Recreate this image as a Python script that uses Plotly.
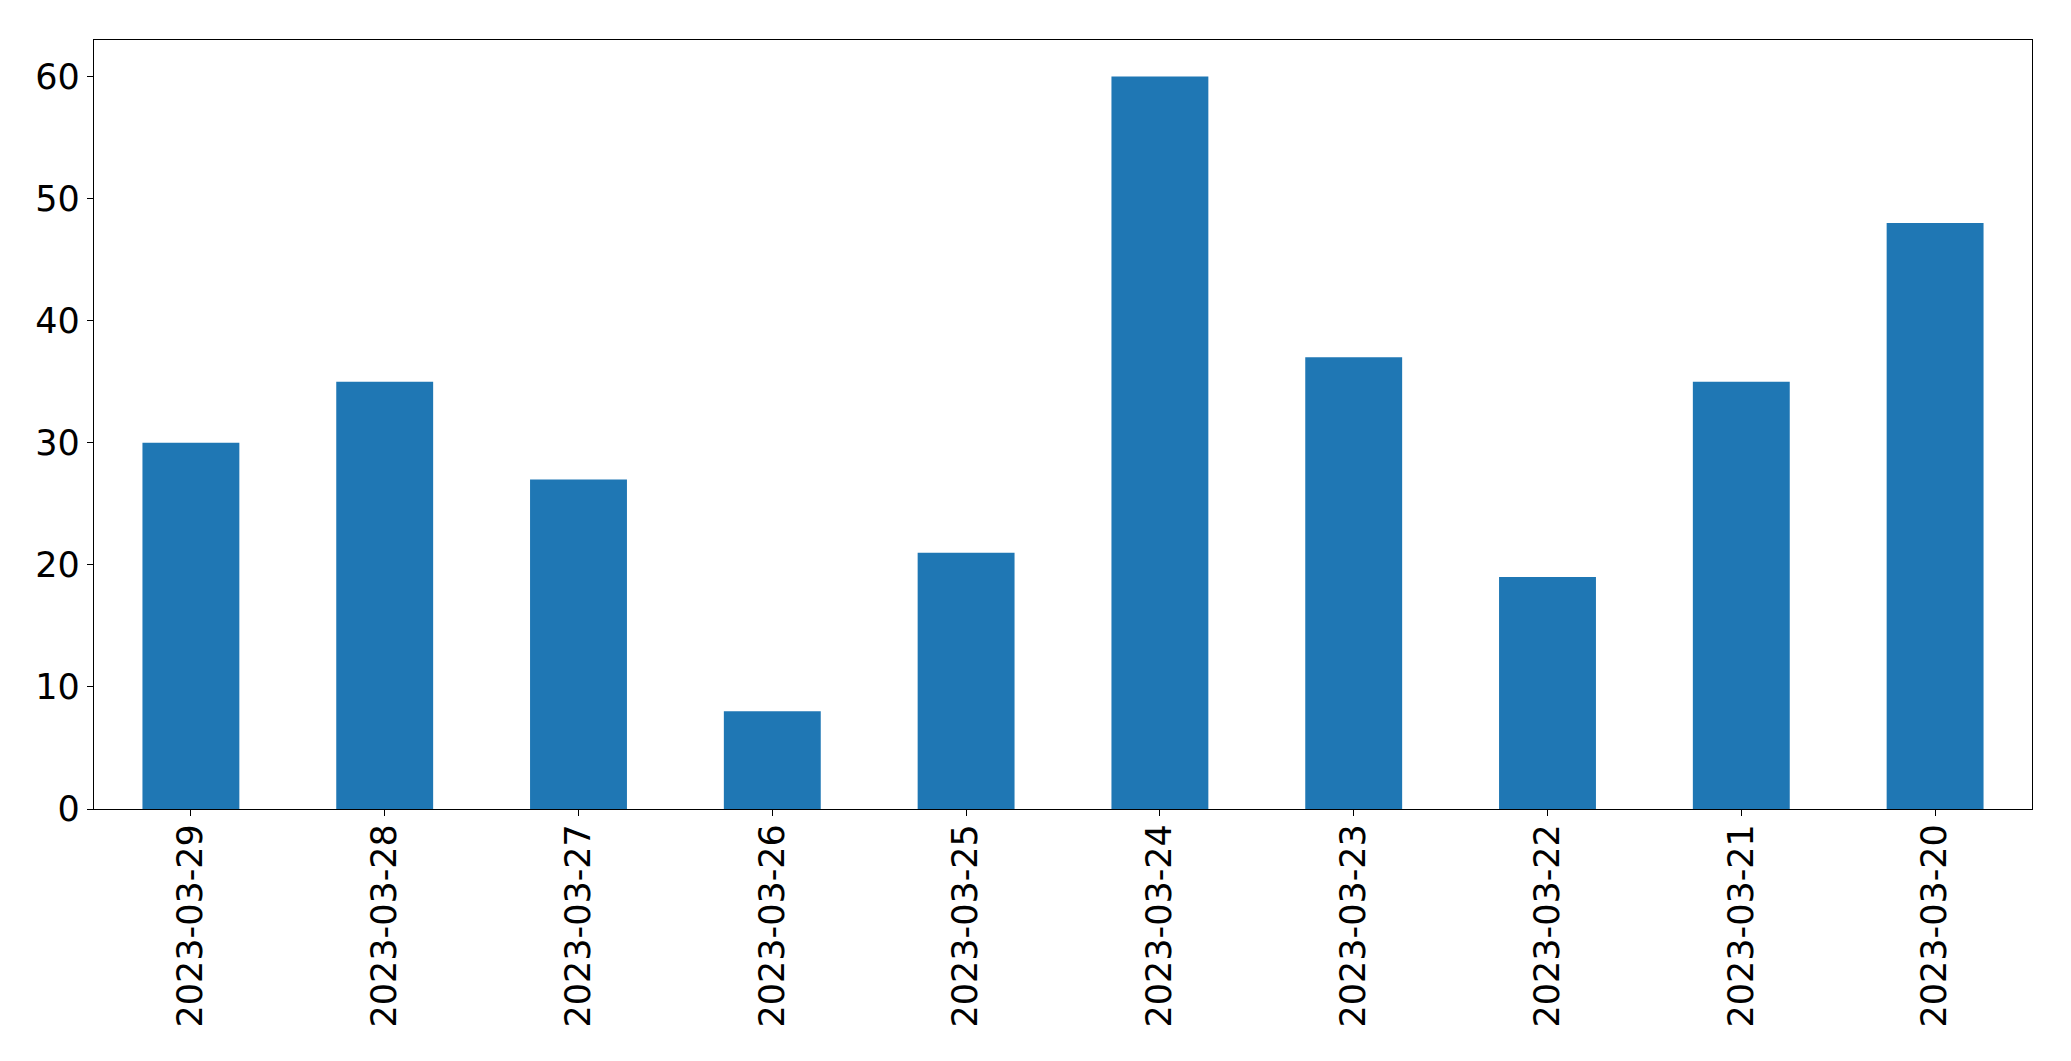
import plotly.graph_objects as go

dates = ["2023-03-29", "2023-03-28", "2023-03-27", "2023-03-26", "2023-03-25",
         "2023-03-24", "2023-03-23", "2023-03-22", "2023-03-21", "2023-03-20"]
values = [30, 35, 27, 8, 21, 60, 37, 19, 35, 48]
y_ticks = [0, 10, 20, 30, 40, 50, 60]

fig = go.Figure(go.Bar(x=dates, y=values, marker_color="#1f77b4", marker_line_width=0, width=0.5))

fig.update_layout(
    width=2063, height=1053,
    margin=dict(l=86, r=39, t=32, b=252, pad=0),
    plot_bgcolor="white", paper_bgcolor="white",
    font=dict(family="DejaVu Sans", size=35, color="black"),
    showlegend=False,
)
fig.update_xaxes(type="category", range=[-0.5, 9.5], tickangle=-90,
                 showline=True, linecolor="black", linewidth=1.3, mirror=True,
                 ticks="outside", ticklen=6, tickwidth=1.3, tickcolor="black",
                 ticklabelstandoff=-6,
                 showgrid=False, tickfont=dict(size=35))
fig.update_yaxes(range=[0, 63], tickvals=y_ticks,
                 showline=True, linecolor="black", linewidth=1.3, mirror=True,
                 ticks="outside", ticklen=6, tickwidth=1.3, tickcolor="black",
                 showgrid=False, zeroline=False, tickfont=dict(size=35))

fig.write_html("out.html")
